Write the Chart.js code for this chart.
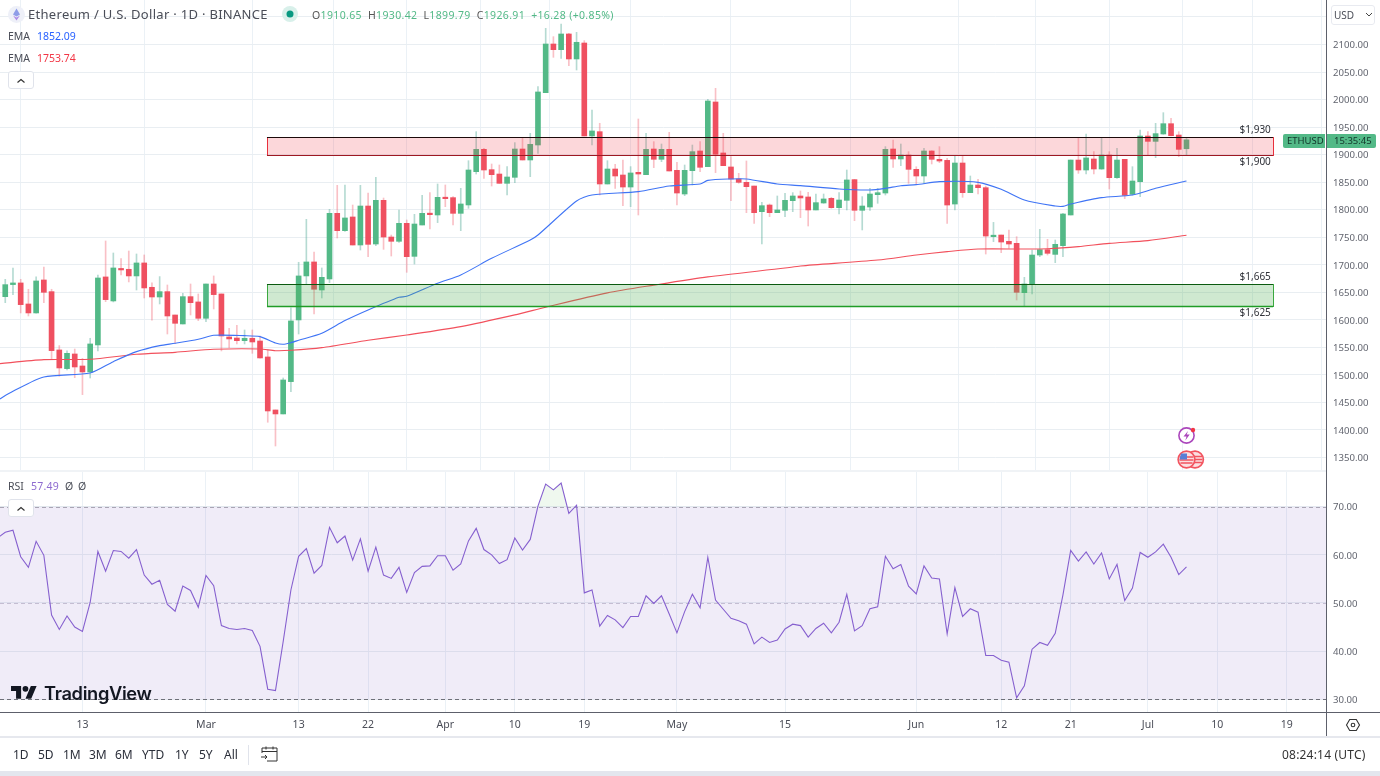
<!DOCTYPE html>
<html><head><meta charset="utf-8">
<script src="https://cdn.jsdelivr.net/npm/chart.js@4"></script>
<style>
html,body{margin:0;padding:0;background:#fff;overflow:hidden}
#stage{position:relative;width:1380px;height:776px;font-family:"Noto Sans",sans-serif;color:#4a4d57;overflow:hidden}
canvas{position:absolute;left:0;display:block}
.t{position:absolute;white-space:nowrap;line-height:1}
.l{position:absolute}
.btn{position:absolute;left:8px;width:24px;height:16px;border:1px solid #e0e3eb;border-radius:3px;background:#fff;box-sizing:content-box}
</style></head><body>
<div id="stage">
<canvas id="priceChart" width="1380" height="471" style="top:0"></canvas>
<canvas id="rsiChart" width="1380" height="265" style="top:472px"></canvas>

<div class="l" style="left:0;top:470px;width:1326px;height:2px;background:#f0f3f6"></div>
<div class="l" style="left:1326px;top:0;width:1px;height:737px;background:#5d606b"></div>
<div class="l" style="left:0;top:712px;width:1380px;height:1px;background:#5d606b"></div>
<div class="l" style="left:0;top:736px;width:1380px;height:2px;background:#e6e8ee"></div>
<div class="l" style="left:0;top:771px;width:1380px;height:5px;background:#e3e6ee"></div>

<svg class="l" style="left:8px;top:6px" width="17" height="17" viewBox="0 0 17 17"><circle cx="8.5" cy="8.5" r="8.5" fill="#eef0f8"/><path d="M8.5 2.5L12 8.5 8.5 10.6 5 8.5Z" fill="#8f9de8"/><path d="M8.5 11.6L12 9.5 8.5 14.5 5 9.5Z" fill="#b08ee8"/></svg>
<div class="t" id="title" style="left:28px;top:8px;font-size:13px;letter-spacing:.3px">Ethereum / U.S. Dollar · 1D · BINANCE</div>
<svg class="l" style="left:282px;top:6px" width="16" height="16"><circle cx="8" cy="8" r="8" fill="#d8f0ea"/><circle cx="8" cy="8" r="3.5" fill="#089981"/></svg>
<div class="t" id="ohlc" style="left:312px;top:10px;font-size:10.5px;letter-spacing:.35px;color:#53b987"><span style="color:#555">O</span>1910.65 <span style="color:#555;margin-left:3px">H</span>1930.42 <span style="color:#555;margin-left:3px">L</span>1899.79 <span style="color:#555;margin-left:3px">C</span>1926.91 <span style="margin-left:3px">+16.28 (+0.85%)</span></div>
<div class="t" style="left:8px;top:31px;font-size:10.5px">EMA</div>
<div class="t" style="left:37px;top:31px;font-size:10.5px;color:#2962ff">1852.09</div>
<div class="t" style="left:8px;top:53px;font-size:10.5px">EMA</div>
<div class="t" style="left:37px;top:53px;font-size:10.5px;color:#f23645">1753.74</div>
<div class="btn" style="top:71px"><svg width="24" height="16"><path d="M8.5 9.5L12 6.5 15.5 9.5" fill="none" stroke="#333" stroke-width="1.2"/></svg></div>
<div class="t" style="left:8px;top:481px;font-size:10.5px">RSI</div>
<div class="t" style="left:31px;top:481px;font-size:10.5px;letter-spacing:.2px;color:#8e6bd0">57.49</div>
<div class="t" style="left:65px;top:481px;font-size:10.5px">Ø</div>
<div class="t" style="left:78px;top:481px;font-size:10.5px">Ø</div>
<div class="btn" style="top:499px"><svg width="24" height="16"><path d="M8.5 9.5L12 6.5 15.5 9.5" fill="none" stroke="#333" stroke-width="1.2"/></svg></div>

<svg class="l" style="left:11px;top:683px" width="26" height="20.2" viewBox="0 0 36 28"><path d="M14 22H7V11H0V4h14v18zM28 22h-8l7.5-18h8L28 22z" fill="#131722"/><circle cx="20" cy="8" r="4" fill="#131722"/></svg>
<div class="t" style="left:44px;top:684px;font-family:Inter,sans-serif;font-weight:600;font-size:18.3px;letter-spacing:-.35px;color:#131722">TradingView</div>

<div class="l" style="left:1331px;top:5px;width:44px;height:20px;border:1px solid #e8eaf0;border-radius:3px;box-sizing:border-box"></div>
<div class="t" style="left:1334px;top:10px;font-size:10px">USD</div>
<svg class="l" style="left:1365px;top:12px" width="8" height="6"><path d="M1 1L4 4 7 1" fill="none" stroke="#444" stroke-width="1"/></svg>
<div class="l" style="left:1283px;top:134px;width:42px;height:14px;background:#53b987;border-radius:2px 0 0 2px"></div>
<div class="t" style="left:1287px;top:136px;font-size:9.5px;color:#12352a">ETHUSD</div>
<div class="l" style="left:1327px;top:134px;width:49px;height:14px;background:#53b987;border-radius:0 2px 2px 0"></div>
<div class="t" style="left:1334px;top:136px;font-size:9.5px;color:#12352a">15:35:45</div>

<svg class="l" style="left:1176px;top:425px" width="30" height="46" viewBox="0 0 30 46">
<circle cx="10.5" cy="10.5" r="7.6" fill="#fff" stroke="#ab47bc" stroke-width="1.6"/><path d="M12 6L7.5 11.5h3l-1.2 4L13.7 9.5h-3z" fill="#ab47bc"/><circle cx="17" cy="5" r="2.2" fill="#f23645"/>
<circle cx="19" cy="34.5" r="8.4" fill="#fbdfe1" stroke="#f2545f" stroke-width="1.6"/>
<path d="M14 31.5h12M13 34.5h13.5M14 37.5h12" stroke="#f2545f" stroke-width="1.7"/>
<circle cx="10.5" cy="34.5" r="8.4" fill="#fbdfe1" stroke="#f2545f" stroke-width="1.6"/>
<path d="M3.5 32h14M3.5 35h14M4.5 38h12" stroke="#f2545f" stroke-width="1.7"/><path d="M5 28.5h6v6h-7.5z" fill="#5a7fd6"/></svg>

<svg class="l" style="left:1345px;top:717px" width="16" height="16" viewBox="0 0 16 16"><path d="M1.5 8L4.7 2.5h6.6L14.5 8l-3.2 5.5H4.7z" fill="none" stroke="#333" stroke-width="1.1"/><circle cx="8" cy="8" r="1.8" fill="none" stroke="#333" stroke-width="1.1"/></svg>

<div class="t rng" style="left:13px">1D</div><div class="t rng" style="left:38px">5D</div><div class="t rng" style="left:63px">1M</div><div class="t rng" style="left:89px">3M</div><div class="t rng" style="left:115px">6M</div><div class="t rng" style="left:142px">YTD</div><div class="t rng" style="left:175px">1Y</div><div class="t rng" style="left:199px">5Y</div><div class="t rng" style="left:224px">All</div>
<div class="l" style="left:248px;top:745px;width:1px;height:20px;background:#e0e3eb"></div>
<svg class="l" style="left:260px;top:745px" width="18" height="18" viewBox="0 0 18 18"><path d="M2 8V3h15v13H7M2 6.5h15M6 1.5v3M13 1.5v3M1 12h6M5 10l2 2-2 2" fill="none" stroke="#333" stroke-width="1"/></svg>
<div class="t" style="left:1282px;top:749px;font-size:12px;letter-spacing:.2px;color:#333">08:24:14 (UTC)</div>
</div>
<style>.rng{top:749px;font-size:12px;color:#2a2e39}</style>
<script>
// Candles: one entry per day, day numbers counted from 1 March (0)
const firstCandleDay = -26;
const opens = [
1642.1,1664,1667,1628.8,1612.5,1672.4,1651.2,1545.3,1511.4,1538,
1516.2,1505.3,1554.4,1677.9,1634.3,1692.4,1691.8,1679.7,1703.3,1659.1,
1641.5,1651.2,1608.8,1592.5,1642.1,1632.5,1602.8,1665.1,1647,1568.9,
1567,1562.2,1566.5,1561.6,1532.6,1436.3,1429.1,1487.8,1599.8,1679.7,
1705.1,1654.2,1674.2,1793.4,1761.9,1786.8,1735.9,1806.7,1737.7,1817,
1750.4,1742.6,1775.2,1715.3,1772.2,1793.4,1790.4,1822.5,1821.9,1793.4,
1808.6,1869.1,1909.6,1872.7,1864.8,1847.9,1858.8,1910.2,1890.3,1917.5,
2012.5,2100.9,2090.6,2119.1,2073.7,2102.7,1933.9,1941.7,1846.7,1873.9,
1863,1841.2,1867.9,1863.6,1910.2,1891.5,1909.6,1871.5,1828.5,1870.9,
1906.6,1878.2,1995.6,1903,1877.6,1855.8,1849.7,1843,1796.4,1808.5,
1794.6,1798.9,1816.4,1824.9,1823.1,1799.5,1812.2,1820.7,1803.7,1817,
1854.6,1798.9,1804.9,1827.3,1830.3,1910.2,1892.1,1899.3,1873.3,1861.2,
1906.6,1891.5,1889.6,1810.3,1884.8,1830.9,1844.8,1840,1751,1754,
1742.5,1738.9,1649.3,1664.5,1717.7,1727.4,1718.9,1734.7,1790.4,1890.2,
1872.1,1892.1,1873.9,1899.3,1858.2,1891.5,1827.9,1850.9,1933.8,1924.1,
1937.5,1956.2,1935.6,1910.65];
const highs = [
1673.6,1694.2,1673.6,1655.5,1677.9,1696,1655.5,1553.2,1543.5,1547,
1530,1566.5,1681.5,1743.2,1721.4,1711.1,1725,1719.6,1717.8,1667,
1678.5,1663.3,1608.8,1648.2,1665.1,1647,1665.1,1679.7,1647,1584.6,
1590,1581.6,1581.6,1570.7,1545.3,1436.3,1494.4,1621.6,1704.5,1782.5,
1723,1694.2,1800.7,1844.3,1844.9,1808.5,1844.3,1830.3,1858.8,1821.2,
1754,1799.5,1781.3,1791.6,1826.1,1830.9,1846.7,1844.9,1823.7,1838.8,
1889,1941.7,1911.5,1883,1881.2,1878.2,1921.8,1929.6,1938.7,2023.4,
2129.4,2114.2,2137.2,2120.3,2122.1,2107,1981.1,1956.9,1889,1882.4,
1890.3,1878.2,1964.7,1938.7,1923.6,1919.3,1940.5,1886,1881.2,1917.5,
1923.6,2000.4,2020.4,1938.7,1896.3,1866.1,1888.5,1843,1813.4,1810.4,
1824.9,1829.7,1831,1834,1831.6,1828.5,1828.5,1822.5,1831,1872.1,
1855.2,1823.7,1838.8,1838.8,1914.5,1926.6,1919.3,1905.4,1878,1911.4,
1907.2,1914.5,1893.3,1897.5,1897.5,1861.2,1855.1,1843,1777,1754,
1763,1751,1677.2,1726.8,1764.3,1746.2,1745,1793.4,1890.2,1929.6,
1937.5,1905.4,1929.6,1905.4,1911.4,1891.5,1878.1,1944.7,1941.7,1956.8,
1976.2,1965.9,1941.7,1930.42];
const lows = [
1631.2,1645.8,1612.5,1607,1612,1631,1528.3,1497.5,1509,1495,
1464.2,1494.4,1543.5,1633,1632.5,1681.5,1668.8,1654.2,1639.7,1599.2,
1628.8,1574.3,1557.4,1592.5,1608.8,1598.6,1596.7,1619.7,1543.5,1549.5,
1556.2,1556.2,1539.2,1530.2,1414,1370.9,1429.1,1469.6,1574.3,1665.1,
1610.7,1639.7,1667.6,1748.6,1760.7,1735.9,1726.8,1714.7,1734.7,1728,
1715.9,1740.8,1686.3,1701.4,1772.2,1765,1776.5,1805.5,1772.2,1761.9,
1802.5,1864.8,1857,1843,1847.9,1826.7,1849.1,1890.3,1860,1902.4,
2012.5,2076.7,2074.9,2061.6,2053.7,1933.9,1917.5,1826.7,1846.7,1838.8,
1807.3,1805.5,1790.4,1863.6,1876.4,1887.2,1870.3,1808.6,1825.5,1844.9,
1869.1,1878.2,1867.3,1880,1816.4,1847.9,1794.6,1775.3,1737.7,1787.4,
1794.6,1787.4,1796.4,1785.6,1770.4,1799.5,1811.6,1802.5,1792.2,1799.5,
1780.1,1763.2,1798.9,1811.6,1826.7,1877,1880,1847.9,1846.7,1847.9,
1883,1885.4,1775.2,1799.4,1822.5,1830.9,1828.5,1719.5,1742,1722,
1729.8,1636,1625.7,1646.9,1714.7,1717.7,1703.8,1714.7,1790.4,1866,
1864.8,1864.8,1873.3,1837.6,1857,1820,1826.7,1823.7,1899.3,1894.5,
1936.9,1933.8,1896.3,1899.79];
const closes = [
1663.9,1667,1627.6,1612.5,1670.6,1650,1544.1,1512.6,1539.2,1514.4,
1505.3,1556.2,1676,1636.7,1694.2,1690.6,1679.7,1703.3,1657.9,1641.5,
1651.2,1607,1593.7,1642.1,1631.2,1602.8,1665.1,1645.8,1570.7,1565.3,
1562.2,1566.5,1559.8,1530.8,1434.5,1429.1,1490.8,1598,1679.7,1705.1,
1655.5,1677.2,1793.4,1761.9,1785,1735.9,1806.7,1737.1,1817,1750.4,
1742.6,1775.2,1714.7,1774,1793.4,1791,1822.5,1820,1793.4,1810.4,
1872.1,1909.6,1872.1,1863.6,1847.9,1859.4,1910.2,1890.3,1918.7,2013.8,
2100.9,2090.6,2119.1,2073.7,2104,1933.9,1943,1846.7,1873.9,1861.2,
1841.2,1866.7,1864.8,1909.6,1891.5,1909.6,1870.3,1830.3,1871.5,1905.4,
1877,1997.4,1900.6,1880,1855.8,1849.7,1841.8,1794.6,1807.3,1794.6,
1799.5,1817,1824.9,1821.3,1799.5,1812.8,1819.5,1803.7,1817.6,1854,
1798.9,1806.7,1828.5,1830.9,1909.6,1892.1,1899.3,1873.3,1861.2,1906.6,
1891.5,1888.4,1808.5,1884.8,1830.9,1844.8,1840,1752.2,1752.8,1741.3,
1737.7,1650,1665.1,1717.7,1727.4,1720.8,1737.1,1792.2,1890.2,1872.1,
1894,1873.9,1899.3,1858.2,1890.2,1826.1,1852.1,1933.8,1924.1,1938.1,
1956.2,1934.4,1909.6,1926.91];

// EMA lines: values read at the days where the curve visibly bends
const emaFastDays = [-27,-25,-21,-15,-12,-9,-6,-4,-1,1,5,7,9,10,11,12,15,18,21,25,26,30,33,37,42,43,48,50,56,60,64,65,68,70,74,77,82,86,88,90,92,95,100,103,106,110,111,112,116,120,123,127];
const emaFast = [1454,1470.2,1496.3,1503.5,1524.1,1542.3,1553.2,1557.4,1564.7,1571.9,1571.3,1569.5,1558,1555.6,1558.6,1562.8,1575.6,1598.6,1617.9,1640.9,1642.7,1666.4,1681.5,1711.7,1745,1754,1815.8,1826.7,1832.8,1843,1846.7,1853.3,1855.8,1855.8,1846.7,1843.7,1837.6,1835.8,1838.8,1843.6,1845.5,1850.9,1849.7,1837,1817.6,1806.7,1806.1,1810.3,1821.9,1826.7,1838.8,1852.09];
const emaSlowDays = [-27,-21,-15,-9,-4,1,7,9,11,15,21,26,33,40,44,52,58,65,75,77,87,92,96,100,106,109,113,117,122,127];
const emaSlow = [1520,1527.7,1528.3,1537.4,1541,1546.5,1547.1,1544,1544.7,1549.5,1562.8,1572.5,1587.7,1609,1623,1649,1663,1678,1694,1697.8,1708.6,1717.7,1723.8,1728.6,1728.6,1729,1732.9,1738.9,1743.8,1753.74];

// RSI, one per day from the day before the first candle
const firstRsiDay = -27;
const rsiValues = [
63.5,64.7,65.1,59.6,57.4,62.8,59.9,47.5,44.5,47.3,45,44.1,50.1,60.7,56.6,60.9,60.7,59.3,61.1,55.8,
53.9,54.7,49.7,48.3,53.5,52.6,49.1,55.7,53.6,45.3,44.7,44.5,44.7,44.3,41,32.1,31.8,42,52.7,59.7,
61.3,56.2,57.8,65.7,62.5,63.9,58.9,63.3,56.6,61.6,55.8,55.1,57.4,52.2,56.3,57.6,57.7,59.8,59.8,56.8,
58.1,62.9,65.5,61.1,60,58.2,59,63.5,61,63.2,70.1,74.7,73.5,74.9,68.6,70.3,52.1,52.7,45.2,47.4,
46.5,44.9,47.2,47.2,51.5,49.9,51.5,47.7,43.8,48.2,51.8,49,59.5,50.6,48.7,46.8,46.3,45.6,41.5,42.9,
41.8,42.3,44.6,45.6,45.3,42.9,44.7,45.8,43.8,46,51.8,44.2,45.3,48.8,49.2,59.7,57.1,58,53.5,51.9,
57.7,55.2,55,43.6,53.2,47.2,48.8,48.1,39.1,39.1,38.1,37.7,30.3,32.8,40.4,41.8,41.2,43.7,51.7,60.9,
58.7,60.6,58.1,60.4,55,58,50.5,53.1,60.5,59.5,60.6,62.2,59.5,55.9,57.49];

// Axis ticks
const priceTicks = [2150,2100,2050,2000,1950,1900,1850,1800,1750,1700,1650,1600,1550,1500,1450,1400,1350];
const rsiTicks = [70,60,50,40,30];
const dateTickDays = [-16,0,12,21,31,40,49,61,75,92,103,112,122,131,140];
const dateTickLabels = ['13','Mar','13','22','Apr','10','19','May','15','Jun','12','21','Jul','10','19'];

// Horizontal price zones and their labels
const zoneNames = ['resistance','support'];
const zoneTops = [1931.5,1664.5];
const zoneBottoms = [1900,1625];
const zoneTopLabels = ['$1,930','$1,665'];
const zoneBottomLabels = ['$1,900','$1,625'];
const zoneStartDay = 7.9, zoneEndDay = 138.2, zoneLabelDay = 135.9;

const xMin = -26.68, xMax = 145.2;
const axisFont = {family:'"Noto Sans",sans-serif', size:9.6};
const hGridColor = '#e9eef2', vGridColor = '#ebf1f6';
const upBody = '#53b987', downBody = '#ef5060';
const upWick = 'rgba(83,170,150,.43)', downWick = 'rgba(239,80,96,.36)';

const candleDays = opens.map((_,i)=>firstCandleDay+i);
const isUp = i => closes[i] >= opens[i];

const noPad = s => { s.paddingTop = 0; s.paddingBottom = 0; s.paddingLeft = 0; s.paddingRight = 0; };

const zonesPlugin = {
  id:'zones',
  afterDatasetsDraw(chart){
    const {ctx,scales:{x,y}} = chart;
    const left = x.getPixelForValue(zoneStartDay), right = x.getPixelForValue(zoneEndDay);
    const styles = {
      resistance:{fill:'rgba(242,54,69,.2)',edge:'#e8303c',top:'#1c0a0a',bottom:'#9d1822'},
      support:{fill:'rgba(76,175,80,.27)',edge:'#3aa83f',top:'#0b5a10',bottom:'#1f9c26'}
    };
    ctx.save();
    zoneNames.forEach((n,i)=>{
      const s = styles[n];
      const t = Math.round(y.getPixelForValue(zoneTops[i]))+.5;
      const b = Math.round(y.getPixelForValue(zoneBottoms[i]))+.5;
      ctx.fillStyle = s.fill; ctx.fillRect(left,t,right-left,b-t);
      ctx.lineWidth = 1; ctx.strokeStyle = s.edge; ctx.strokeRect(Math.round(left)+.5,t,Math.round(right-left),b-t);
      ctx.strokeStyle = s.top; ctx.beginPath(); ctx.moveTo(left,t); ctx.lineTo(right,t); ctx.stroke();
      ctx.lineWidth = n==='support'?1.6:1.2;
      ctx.strokeStyle = s.bottom; ctx.beginPath(); ctx.moveTo(left,b); ctx.lineTo(right,b); ctx.stroke();
      ctx.fillStyle = '#2f3138'; ctx.font = '10px "Noto Sans",sans-serif'; ctx.textAlign = 'center'; ctx.textBaseline = 'middle';
      const lx = x.getPixelForValue(zoneLabelDay);
      ctx.fillText(zoneTopLabels[i],lx,t-7);
      ctx.fillText(zoneBottomLabels[i],lx,b+7);
    });
    ctx.restore();
  }
};

const rsiBandPlugin = {
  id:'rsiBand',
  beforeDatasetsDraw(chart){
    const {ctx,chartArea:a,scales:{y}} = chart;
    const y70 = y.getPixelForValue(70), y50 = y.getPixelForValue(50), y30 = y.getPixelForValue(30);
    ctx.save();
    ctx.fillStyle = 'rgba(126,87,194,.115)';
    ctx.fillRect(a.left,y70,a.right-a.left,y30-y70);
    ctx.setLineDash([4,3]); ctx.lineWidth = 1;
    [[y70,'#a9a4b4'],[y50,'#c4bdd2'],[y30,'#6f7079']].forEach(([p,c])=>{
      ctx.strokeStyle = c; ctx.beginPath(); ctx.moveTo(a.left,Math.round(p)+.5); ctx.lineTo(a.right,Math.round(p)+.5); ctx.stroke();
    });
    ctx.restore();
  }
};

function xScale(showLabels){
  return {
    type:'linear', min:xMin, max:xMax, offset:false, position:'bottom',
    grid:{color:vGridColor, drawTicks:false},
    border:{display:false},
    afterBuildTicks:s=>{s.ticks = dateTickDays.map(v=>({value:v}));},
    afterFit:s=>{s.height = showLabels ? 25 : 0; noPad(s);},
    ticks:{display:showLabels, autoSkip:false, maxRotation:0, padding:7, color:'#4a4d57',
      font:{family:'"Noto Sans",sans-serif', size:10.5},
      callback:(v)=>{const k = dateTickDays.indexOf(v); return k<0?'':dateTickLabels[k];}}
  };
}
function yScale(min,max,ticks,hidden){
  return {
    type:'linear', position:'right', min, max,
    grid:{color:hGridColor, drawTicks:false},
    border:{display:false},
    afterBuildTicks:s=>{s.ticks = ticks.map(v=>({value:v}));},
    afterFit:s=>{s.width = 53; noPad(s);},
    ticks:{autoSkip:false, padding:6, labelOffset:1, color:'#62656f', font:axisFont, align:'center', crossAlign:'near',
      callback:v=> hidden.includes(v) ? '' : v.toFixed(2)}
  };
}

new Chart(document.getElementById('priceChart'),{
  data:{datasets:[
    {type:'line',label:'EMA 50',order:1,data:emaFastDays.map((d,i)=>({x:d,y:emaFast[i]})),borderColor:'#3f74f5',borderWidth:1.1,pointRadius:0,tension:.25},
    {type:'line',label:'EMA 200',order:1,data:emaSlowDays.map((d,i)=>({x:d,y:emaSlow[i]})),borderColor:'#f2505c',borderWidth:1.1,pointRadius:0,tension:.25},
    {type:'bar',label:'Body',order:2,grouped:false,barThickness:5,minBarLength:1.5,borderWidth:0,
      data:candleDays.map((d,i)=>({x:d,y:[opens[i],closes[i]]})),
      backgroundColor:candleDays.map((_,i)=>isUp(i)?upBody:downBody)},
    {type:'bar',label:'Wick',order:3,grouped:false,barThickness:1,borderWidth:0,
      data:candleDays.map((d,i)=>({x:d,y:[lows[i],highs[i]]})),
      backgroundColor:candleDays.map((_,i)=>isUp(i)?upWick:downWick)}
  ]},
  options:{responsive:false,animation:false,events:[],layout:{padding:0},
    plugins:{legend:{display:false},tooltip:{enabled:false}},
    scales:{x:xScale(false),y:yScale(1325.5,2180.8,priceTicks,[2150])}},
  plugins:[zonesPlugin]
});

new Chart(document.getElementById('rsiChart'),{
  data:{datasets:[
    {type:'line',label:'RSI',data:rsiValues.map((v,i)=>({x:firstRsiDay+i,y:v})),borderColor:'#8660cf',borderWidth:1.1,pointRadius:0,tension:0,
     fill:{target:{value:70},above:'rgba(76,175,80,.09)',below:'rgba(0,0,0,0)'}}
  ]},
  options:{responsive:false,animation:false,events:[],layout:{padding:0},
    plugins:{legend:{display:false},tooltip:{enabled:false}},
    scales:{x:xScale(true),y:yScale(27.36,77.2,rsiTicks,[])}},
  plugins:[rsiBandPlugin]
});
</script>
</body></html>
